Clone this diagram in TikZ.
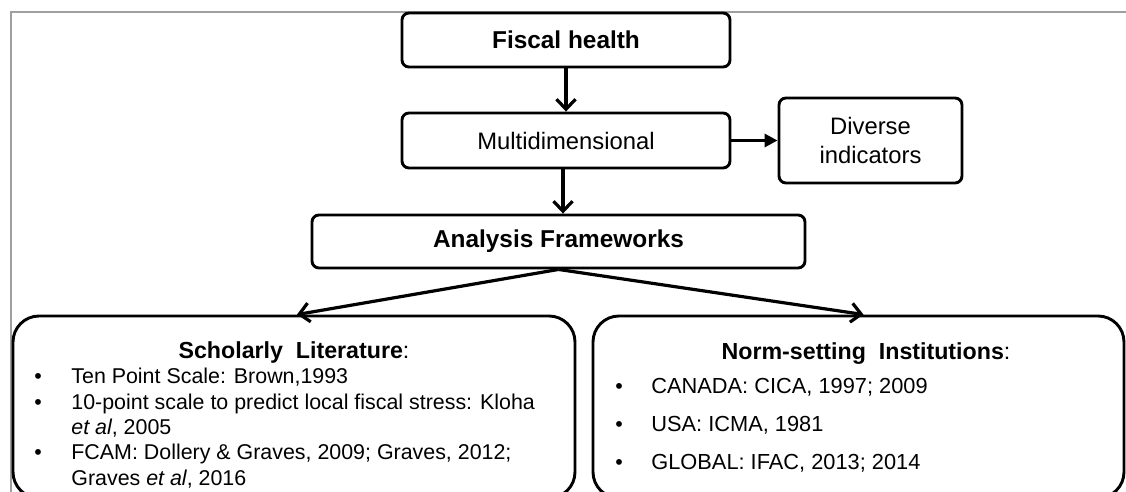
\documentclass[tikz,border=0pt]{standalone}
\usepackage{fontspec}
\setmainfont{Liberation Sans}
\usetikzlibrary{arrows.meta}
\begin{document}
\begin{tikzpicture}[x=0.5pt,y=-0.5pt,
  box/.style={draw=black,line width=1.45pt,rounded corners=3.5pt,inner sep=0pt,align=center},
  bigbox/.style={draw=black,line width=1.45pt,rounded corners=13pt,inner sep=0pt},
  conn/.style={line width=1.6pt,-{Straight Barb[length=5pt,width=9.5pt,line width=1.6pt]}},
  tri/.style={line width=1.6pt,-{Triangle[length=6.5pt,width=6.5pt]}},
  bigfont/.style={font=\fontsize{12.2}{14}\selectfont\bfseries},
  midfont/.style={font=\fontsize{11.9}{13.5}\selectfont},
  titlefont/.style={font=\fontsize{11.6}{14}\selectfont},
  itemfont/.style={font=\fontsize{10.7}{12.5}\selectfont},
  ritemfont/.style={font=\fontsize{10.9}{12.5}\selectfont},
  line/.style={anchor=base west,inner sep=0pt,itemfont},
  rline/.style={anchor=base west,inner sep=0pt,ritemfont},
  bul/.style={anchor=base,inner sep=0pt,itemfont}]
\useasboundingbox (0,0) rectangle (1126,492);
\fill[white] (0,0) rectangle (1126,492);
\clip (0,0) rectangle (1126,492);
\draw[gray!75,line width=1pt] (11,492) -- (11,12) -- (1126,12);

\node[box,bigfont,minimum width=164pt,minimum height=27pt] (fiscal) at (566,40) {Fiscal\ health};
\node[box,midfont,minimum width=164pt,minimum height=27.5pt] (multi) at (566,140.5) {Multidimensional};
\node[box,midfont,minimum width=91.5pt,minimum height=42.5pt,text depth=0pt] (diverse) at (870.5,140.5) {Diverse\\[1pt]indicators};
\node[box,bigfont,minimum width=246.5pt,minimum height=26.5pt] (analysis) at (558.5,241.5) {Analysis\ Frameworks};
\node[bigbox,minimum width=281pt,minimum height=91pt] (lit) at (294,407) {};
\node[bigbox,minimum width=265.5pt,minimum height=91pt] (norm) at (858.5,407) {};

\draw[conn] (fiscal.south) -- (multi.north);
\draw[conn] ([xshift=-1.5pt]multi.south) -- ([xshift=-1.5pt]multi.south |- analysis.north);
\draw[tri] (multi.east) -- (diverse.west);
\draw[conn] (analysis.south) -- ([xshift=1.5pt]lit.north);
\draw[conn] (analysis.south) -- ([xshift=2.5pt]norm.north);

\node[anchor=base,inner sep=0pt,titlefont] (littitle) at (294,358) {\textbf{Scholarly\ \ Literature}:};
\node[bul] (lb1) at (38,383.6) {\textbullet};
\node[line] (l1) at (71,383.6) {Ten Point Scale: Brown,1993};
\node[bul] (lb2) at (38,409) {\textbullet};
\node[line] (l2) at (71,409) {10-point scale to predict local fiscal stress: Kloha};
\node[line] (l3) at (71,434) {\textit{et al}, 2005};
\node[bul] (lb3) at (38,459.5) {\textbullet};
\node[line] (l4) at (71,459.5) {FCAM: Dollery \& Graves, 2009; Graves, 2012;};
\node[line] (l5) at (71,485) {Graves \textit{et al}, 2016};

\node[anchor=base,inner sep=0pt,titlefont] (normtitle) at (866,359.5) {\textbf{Norm-setting\ \ Institutions}:};
\node[bul] (rb1) at (619,393.6) {\textbullet};
\node[rline] (r1) at (651,393.6) {CANADA: CICA,\ 1997; 2009};
\node[bul] (rb2) at (619,431) {\textbullet};
\node[rline] (r2) at (651,431) {USA: ICMA,\ 1981};
\node[bul] (rb3) at (619,469) {\textbullet};
\node[rline] (r3) at (651,469) {GLOBAL: IFAC, 2013; 2014};
\end{tikzpicture}
\end{document}
